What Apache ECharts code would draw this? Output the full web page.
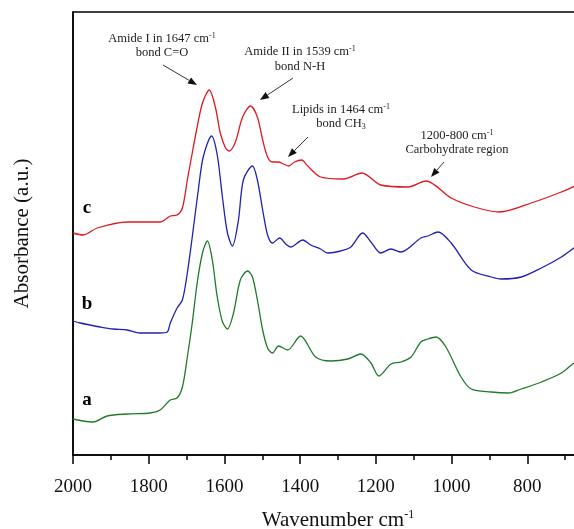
<!DOCTYPE html>
<html>
<head>
<meta charset="utf-8">
<script src="https://cdn.jsdelivr.net/npm/echarts@6/dist/echarts.min.js"></script>
<style>
  html, body { margin: 0; padding: 0; background: #fff; }
  #chart { width: 574px; height: 529px; }
</style>
</head>
<body>
<div id="chart"></div>
<script>
// wavenumbers (cm-1) and absorbance (a.u., offset for stacking)
const wnC = [2000, 1973, 1936, 1857, 1770, 1743, 1725, 1711, 1698, 1685, 1672, 1658, 1640, 1624, 1611, 1597, 1587, 1571, 1552, 1531, 1513, 1499, 1486, 1473, 1457, 1444, 1430, 1415, 1396, 1380, 1346, 1285, 1237, 1187, 1115, 1068, 1001, 940, 874, 782, 710, 673, 650];
const absC = [222, 220, 227, 233, 233, 239, 240, 247, 275, 302, 328, 352, 365, 348, 322, 307, 304, 313, 338, 349, 338, 315, 298, 293, 293, 291, 289, 293, 295, 289, 278, 276, 282, 270, 268, 274, 257, 248, 243, 253, 263, 269, 272];

const wnB = [2000, 1981, 1955, 1928, 1894, 1857, 1823, 1796, 1770, 1751, 1743, 1725, 1711, 1698, 1685, 1669, 1656, 1634, 1619, 1605, 1592, 1579, 1563, 1550, 1526, 1513, 1499, 1486, 1473, 1454, 1438, 1425, 1393, 1372, 1346, 1327, 1293, 1266, 1235, 1213, 1187, 1160, 1134, 1081, 1062, 1036, 1001, 948, 895, 869, 816, 763, 710, 673, 650];
const absB = [134, 132, 130, 128, 126, 125, 122, 122, 122, 123, 132, 147, 155, 182, 218, 265, 298, 319, 300, 257, 222, 209, 235, 275, 289, 275, 245, 220, 212, 217, 211, 208, 215, 210, 206, 202, 204, 208, 222, 213, 202, 206, 203, 217, 219, 223, 212, 185, 178, 176, 178, 187, 198, 208, 213];

const wnA = [2000, 1973, 1947, 1910, 1857, 1796, 1770, 1743, 1725, 1711, 1698, 1685, 1672, 1658, 1645, 1632, 1619, 1605, 1592, 1576, 1558, 1539, 1526, 1513, 1499, 1486, 1473, 1457, 1433, 1399, 1359, 1319, 1274, 1240, 1213, 1192, 1160, 1134, 1107, 1081, 1062, 1041, 1015, 975, 948, 895, 850, 816, 763, 710, 673, 650];
const absA = [36, 34, 33, 39, 41, 42, 45, 55, 57, 68, 98, 132, 172, 202, 214, 195, 158, 133, 126, 142, 175, 184, 178, 155, 125, 107, 102, 109, 105, 119, 98, 94, 96, 101, 92, 79, 91, 93, 98, 113, 116, 118, 108, 78, 66, 63, 62, 66, 73, 82, 93, 97];

const xTicks = [2000, 1800, 1600, 1400, 1200, 1000, 800];

const pairs = (xs, ys) => xs.map((x, i) => [x, ys[i]]);

const serif = '"Liberation Serif", "DejaVu Serif", serif';
const rich = {
  sup: { fontSize: 8, verticalAlign: 'top', padding: [0, 0, 6, 0], fontFamily: serif, color: '#222' },
  sub: { fontSize: 8, padding: [5, 0, 0, 0], fontFamily: serif, color: '#222' },
};

const note = (x, y, text) => ({
  type: 'text',
  x: x,
  y: y,
  style: {
    text: text,
    rich: rich,
    font: '12.5px ' + serif,
    fill: '#222',
    align: 'center',
    verticalAlign: 'middle',
  },
});

// arrow: line with a filled head at (x2, y2)
const arrow = (x1, y1, x2, y2) => {
  const a = Math.atan2(y2 - y1, x2 - x1);
  const L = 9, W = 3.5;
  const bx = x2 - L * Math.cos(a), by = y2 - L * Math.sin(a);
  const px = -Math.sin(a) * W, py = Math.cos(a) * W;
  return [
    { type: 'line', shape: { x1: x1, y1: y1, x2: bx, y2: by }, style: { stroke: '#333', lineWidth: 1 } },
    { type: 'polygon', shape: { points: [[x2, y2], [bx + px, by + py], [bx - px, by - py]] }, style: { fill: '#111' } },
  ];
};

const tag = (x, y, t) => ({
  type: 'text', x: x, y: y,
  style: { text: t, font: 'bold 19px ' + serif, fill: '#000', align: 'center', verticalAlign: 'middle' },
});

const chart = echarts.init(document.getElementById('chart'));
chart.setOption({
  animation: false,
  grid: {
    left: 73, top: 12, width: 530, bottom: 74,
    outerBoundsMode: 'none',
    containLabel: false,
    show: true, borderColor: '#000', borderWidth: 1.5, backgroundColor: 'transparent',
  },
  xAxis: {
    type: 'value',
    inverse: true,
    min: 600,
    max: 2000,
    interval: 200,
    name: 'Wavenumber cm{sup|-1}',
    nameLocation: 'middle',
    nameGap: 54,
    nameTextStyle: {
      fontFamily: serif, fontSize: 21, color: '#111',
      rich: { sup: { fontSize: 12, verticalAlign: 'top', padding: [0, 0, 10, 0], fontFamily: serif, color: '#111' } },
    },
    axisLine: { onZero: false, lineStyle: { color: '#000', width: 1.5 } },
    axisTick: { length: 9, lineStyle: { color: '#000', width: 1.5 } },
    minorTick: { show: true, splitNumber: 2, length: 5, lineStyle: { color: '#000', width: 1.5 } },
    splitLine: { show: false },
    axisLabel: {
      margin: 23,
      fontFamily: serif, fontSize: 19, color: '#111',
      formatter: (v) => (xTicks.includes(v) ? String(v) : ''),
    },
  },
  yAxis: {
    type: 'value',
    min: 0,
    max: 443,
    name: 'Absorbance (a.u.)',
    nameLocation: 'middle',
    nameGap: 40,
    nameTextStyle: { fontFamily: serif, fontSize: 21, color: '#111' },
    axisLine: { show: true, lineStyle: { color: '#000', width: 1.5 } },
    axisTick: { show: false },
    axisLabel: { show: false },
    splitLine: { show: false },
  },
  series: [
    { name: 'a', type: 'line', data: pairs(wnA, absA), smooth: 0.3, symbol: 'none', lineStyle: { color: '#1f7a2c', width: 1.3 } },
    { name: 'b', type: 'line', data: pairs(wnB, absB), smooth: 0.3, symbol: 'none', lineStyle: { color: '#1f22b3', width: 1.3 } },
    { name: 'c', type: 'line', data: pairs(wnC, absC), smooth: 0.3, symbol: 'none', lineStyle: { color: '#e0191f', width: 1.3 } },
  ],
  graphic: [
    tag(87, 208, 'c'),
    tag(87, 304, 'b'),
    tag(87, 400, 'a'),
    note(162, 39, 'Amide I in 1647 cm{sup|-1}'),
    note(162, 53, 'bond C=O'),
    note(300, 52, 'Amide II in 1539 cm{sup|-1}'),
    note(300, 67, 'bond N-H'),
    note(341, 110, 'Lipids in 1464 cm{sup|-1}'),
    note(341, 124, 'bond CH{sub|3}'),
    note(457, 136, '1200-800 cm{sup|-1}'),
    note(457, 150, 'Carbohydrate region'),
    ...arrow(163, 65, 197, 85),
    ...arrow(293, 78, 260, 100),
    ...arrow(308, 137, 288, 157),
    ...arrow(444, 162, 431, 177),
  ],
});
</script>
</body>
</html>
